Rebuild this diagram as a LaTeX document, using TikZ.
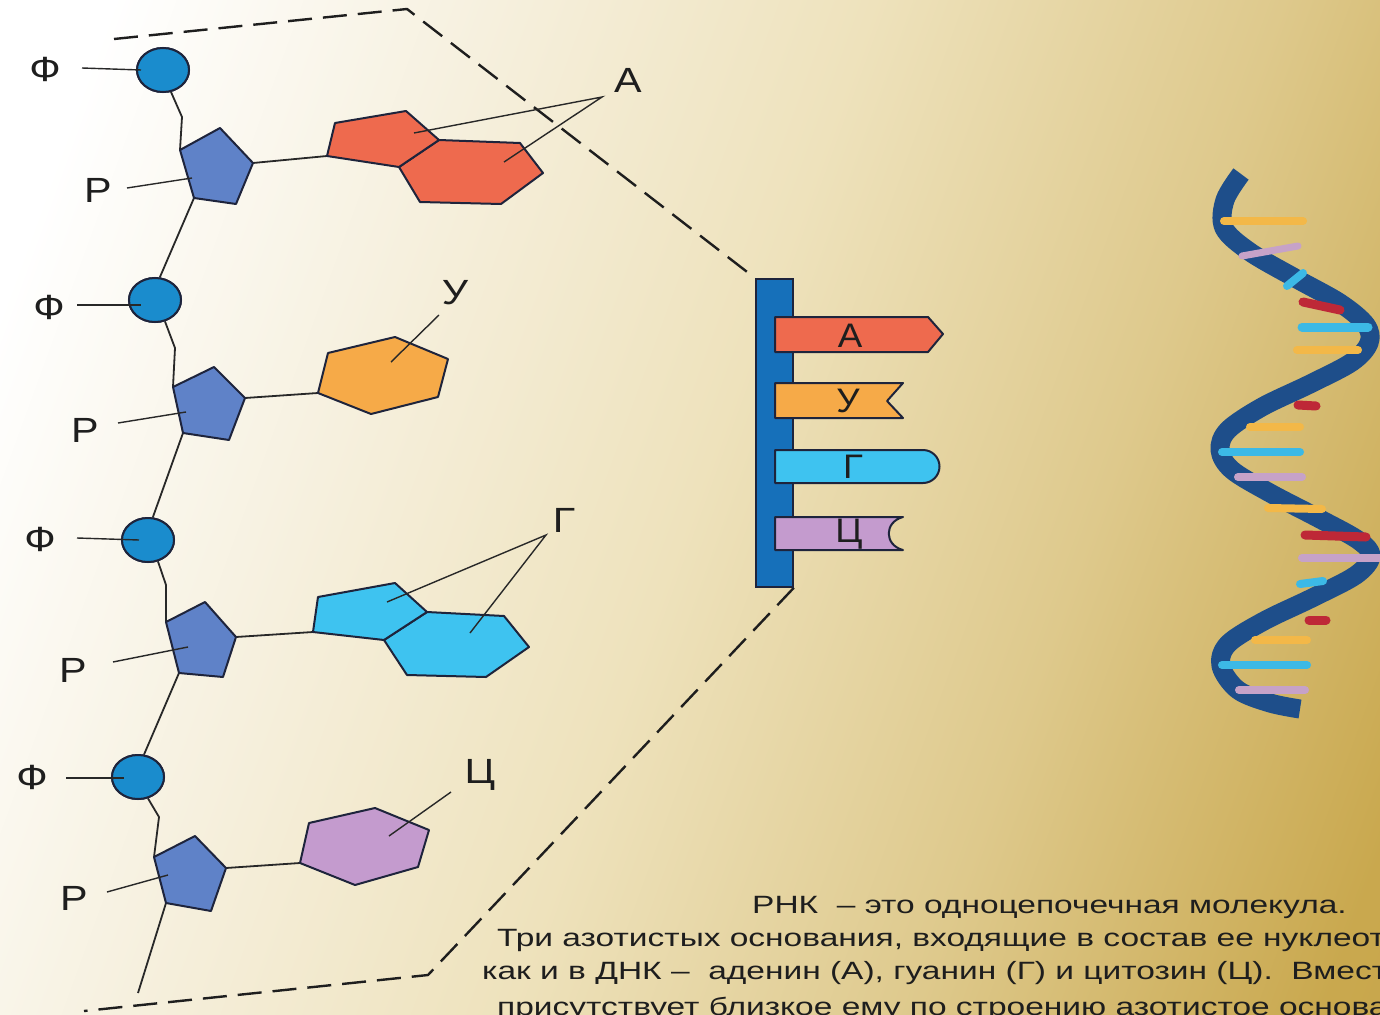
\documentclass[tikz,border=0pt]{standalone}
\usepackage{fontspec}
\setmainfont{Liberation Sans}
\newfontfamily\lblfont{Liberation Sans}[FakeStretch=1.18]
\newfontfamily\tagfont{Liberation Sans}[FakeStretch=1.08]
\newfontfamily\txtfont{Liberation Sans}[FakeStretch=1.34]
\usetikzlibrary{shapes.geometric}

\definecolor{bgA}{RGB}{246,240,222}
\definecolor{bgB}{RGB}{238,226,188}
\definecolor{bgC}{RGB}{222,201,140}
\definecolor{bgD}{RGB}{201,168,78}
\definecolor{bgE}{RGB}{194,160,66}
\definecolor{inkdark}{RGB}{30,30,30}
\definecolor{linkgray}{RGB}{40,40,40}
\definecolor{outline}{RGB}{30,36,60}
\definecolor{phosblue}{RGB}{26,140,205}
\definecolor{sugarblue}{RGB}{95,130,200}
\definecolor{adenine}{RGB}{238,106,78}
\definecolor{uracil}{RGB}{246,170,72}
\definecolor{guanine}{RGB}{62,195,240}
\definecolor{cytosine}{RGB}{196,155,206}
\definecolor{barblue}{RGB}{22,112,186}
\definecolor{ribbon}{RGB}{30,78,138}
\definecolor{hxyellow}{RGB}{243,184,72}
\definecolor{hxpurple}{RGB}{198,162,200}
\definecolor{hxcyan}{RGB}{60,185,230}
\definecolor{hxred}{RGB}{190,40,55}

\pgfdeclarehorizontalshading{paper}{100bp}{color(0bp)=(white); color(22bp)=(white); color(36bp)=(bgA); color(50bp)=(bgB); color(65bp)=(bgC); color(80bp)=(bgD); color(100bp)=(bgE)}

\begin{document}
\begin{tikzpicture}[x=1pt,y=-1pt,
  link/.style={draw=linkgray, line width=1.8pt},
  leader/.style={draw=linkgray, line width=1.4pt},
  frame/.style={draw=inkdark, line width=2.4pt, dash pattern=on 24pt off 11pt},
  phos/.style={ellipse, draw=outline, line width=2pt, fill=phosblue,
    minimum width=52pt, minimum height=44pt, inner sep=0pt},
  ring/.style={draw=outline, line width=2pt, line join=round},
  lbl/.style={font=\lblfont\fontsize{35pt}{40pt}\selectfont, text=inkdark, inner sep=0pt},
  taglbl/.style={font=\tagfont\fontsize{34pt}{40pt}\selectfont, text=inkdark, inner sep=0pt},
  para/.style={font=\txtfont\fontsize{25pt}{30pt}\selectfont, text=inkdark,
    inner sep=0pt, anchor=base west},
  rung/.style={line width=8pt, line cap=round}]

% page and its golden background
\useasboundingbox (0,0) rectangle (1380,1014);
\clip (0,0) rectangle (1380,1014);
\shade[shading=paper, shading angle=-20] (0,0) rectangle (1380,1014);

% ---------- RNA strand bar ----------
\node[draw=outline, line width=1.6pt, fill=barblue, minimum width=37pt,
  minimum height=308pt, inner sep=0pt] (bar) at (774.5,433) {};

% dashed magnification frame
\coordinate (fr1) at (114,39);
\coordinate (fr2) at (407,9);
\coordinate (fr3) at (428,975);
\coordinate (fr4) at (84,1011);
\draw[frame] (fr1) -- (fr2) -- (bar.north west);
\draw[frame] (bar.south east) -- (fr3) -- (fr4);
\node[draw=outline, line width=1.6pt, fill=barblue, minimum width=37pt,
  minimum height=308pt, inner sep=0pt] at (bar) {};

% base tags on the bar
\coordinate (ta1) at (775,317); \coordinate (ta2) at (928,317);
\coordinate (ta3) at (943,334); \coordinate (ta4) at (928,352);
\coordinate (ta5) at (775,352);
\filldraw[ring, fill=adenine] (ta1) -- (ta2) -- (ta3) -- (ta4) -- (ta5) -- cycle;
\node[taglbl] (tagA) at (850,336) {А};

\coordinate (tu1) at (775,383); \coordinate (tu2) at (903,383);
\coordinate (tu3) at (887,401); \coordinate (tu4) at (903,418);
\coordinate (tu5) at (775,418);
\filldraw[ring, fill=uracil] (tu1) -- (tu2) -- (tu3) -- (tu4) -- (tu5) -- cycle;
\node[taglbl] (tagU) at (848,401) {У};

\coordinate (tg1) at (775,450); \coordinate (tg2) at (923,450);
\coordinate (tg3) at (775,483);
\filldraw[ring, fill=guanine] (tg1) -- (tg2) arc(-90:90:16.5) -- (tg3) -- cycle;
\node[taglbl] (tagG) at (853,467) {Г};

\coordinate (tc1) at (775,517); \coordinate (tc2) at (903,517);
\coordinate (tc3) at (903,550); \coordinate (tc4) at (775,550);
\filldraw[ring, fill=cytosine] (tc1) -- (tc2) .. controls (884,522) and (884,545) .. (tc3) -- (tc4) -- cycle;
\node[taglbl] (tagC) at (849,534) {Ц};

% ---------- double helix ----------
\draw[ribbon, line width=19pt, line cap=butt, line join=round]
  plot[smooth, tension=0.55] coordinates {
  (1241,174) (1225,200) (1224,228) (1250,252) (1295,278) (1340,303)
  (1366,325) (1369,343) (1352,362) (1310,384) (1262,407) (1228,430)
  (1220,450) (1232,470) (1270,493) (1318,518) (1358,540) (1371,556)
  (1356,575) (1312,598) (1264,621) (1228,644) (1221,666) (1238,690)
  (1270,703) (1300,709)};
\draw[rung, hxyellow] (1224,221) -- (1303,221);
\draw[rung, hxpurple, line width=7pt] (1242,256) -- (1298,246);
\draw[rung, hxcyan] (1287,286) -- (1303,273);
\draw[rung, hxred, line width=9pt] (1303,302) -- (1340,310);
\draw[rung, hxcyan, line width=9pt] (1302,327) -- (1368,327);
\draw[rung, hxyellow] (1297,350) -- (1358,350);
\draw[rung, hxred, line width=9pt] (1298,405) -- (1316,406);
\draw[rung, hxyellow] (1250,427) -- (1300,427);
\draw[rung, hxcyan] (1222,452) -- (1300,452);
\draw[rung, hxpurple] (1238,477) -- (1302,477);
\draw[rung, hxyellow] (1268,508) -- (1322,509);
\draw[rung, hxred, line width=9pt] (1305,535) -- (1366,537);
\draw[rung, hxpurple] (1302,558) -- (1382,558);
\draw[rung, hxcyan] (1300,584) -- (1323,581);
\draw[rung, hxred, line width=9pt] (1309,620) -- (1326,620);
\draw[rung, hxyellow] (1255,640) -- (1307,640);
\draw[rung, hxcyan] (1222,665) -- (1307,665);
\draw[rung, hxpurple] (1239,690) -- (1305,690);

% ---------- nucleotide chain ----------
% phosphates
\node[phos] (ph1) at (163,70) {};
\node[phos] (ph2) at (155,300) {};
\node[phos] (ph3) at (148,540) {};
\node[phos] (ph4) at (138,777) {};

% ribose corners
\coordinate (s1a) at (180,150); \coordinate (s1b) at (220,128); \coordinate (s1c) at (253,163);
\coordinate (s1d) at (236,204); \coordinate (s1e) at (194,198);
\coordinate (s2a) at (173,387); \coordinate (s2b) at (214,367); \coordinate (s2c) at (245,398);
\coordinate (s2d) at (229,440); \coordinate (s2e) at (183,433);
\coordinate (s3a) at (166,622); \coordinate (s3b) at (205,602); \coordinate (s3c) at (236,637);
\coordinate (s3d) at (223,677); \coordinate (s3e) at (179,673);
\coordinate (s4a) at (154,857); \coordinate (s4b) at (195,836); \coordinate (s4c) at (226,868);
\coordinate (s4d) at (211,911); \coordinate (s4e) at (166,903);

% backbone bends
\coordinate (k1) at (182,117);
\coordinate (k2) at (175,348);
\coordinate (k3) at (166,585);
\coordinate (k4) at (159,817);
\coordinate (tail) at (138,993);

% base corners
\coordinate (ba1) at (327,156); \coordinate (ba2) at (335,123); \coordinate (ba3) at (406,111);
\coordinate (ba4) at (439,140); \coordinate (ba5) at (399,167); \coordinate (ba6) at (520,143);
\coordinate (ba7) at (543,173); \coordinate (ba8) at (501,204); \coordinate (ba9) at (420,202);
\coordinate (bu1) at (318,393); \coordinate (bu2) at (328,353); \coordinate (bu3) at (395,337);
\coordinate (bu4) at (448,359); \coordinate (bu5) at (438,397); \coordinate (bu6) at (371,414);
\coordinate (bg1) at (313,632); \coordinate (bg2) at (318,597); \coordinate (bg3) at (395,583);
\coordinate (bg4) at (427,612); \coordinate (bg5) at (384,640); \coordinate (bg6) at (504,616);
\coordinate (bg7) at (529,647); \coordinate (bg8) at (486,677); \coordinate (bg9) at (407,675);
\coordinate (bc1) at (300,863); \coordinate (bc2) at (309,823); \coordinate (bc3) at (375,808);
\coordinate (bc4) at (429,830); \coordinate (bc5) at (418,867); \coordinate (bc6) at (355,885);

% backbone and glycosidic links
\draw[link] (ph1.-70) -- (k1) -- (s1a);
\draw[link] (s1e) -- (ph2.78);
\draw[link] (ph2.-65) -- (k2) -- (s2a);
\draw[link] (s2e) -- (ph3.78);
\draw[link] (ph3.-65) -- (k3) -- (s3a);
\draw[link] (s3e) -- (ph4.75);
\draw[link] (ph4.-65) -- (k4) -- (s4a);
\draw[link] (s4e) -- (tail);
\draw[link] (s1c) -- (ba1);
\draw[link] (s2c) -- (bu1);
\draw[link] (s3c) -- (bg1);
\draw[link] (s4c) -- (bc1);

% redraw phosphates over the links
\node[phos] at (ph1) {};
\node[phos] at (ph2) {};
\node[phos] at (ph3) {};
\node[phos] at (ph4) {};

% riboses
\filldraw[ring, fill=sugarblue] (s1a) -- (s1b) -- (s1c) -- (s1d) -- (s1e) -- cycle;
\filldraw[ring, fill=sugarblue] (s2a) -- (s2b) -- (s2c) -- (s2d) -- (s2e) -- cycle;
\filldraw[ring, fill=sugarblue] (s3a) -- (s3b) -- (s3c) -- (s3d) -- (s3e) -- cycle;
\filldraw[ring, fill=sugarblue] (s4a) -- (s4b) -- (s4c) -- (s4d) -- (s4e) -- cycle;

% bases
\filldraw[ring, fill=adenine] (ba4) -- (ba6) -- (ba7) -- (ba8) -- (ba9) -- (ba5) -- cycle;
\filldraw[ring, fill=adenine] (ba1) -- (ba2) -- (ba3) -- (ba4) -- (ba5) -- cycle;
\filldraw[ring, fill=uracil] (bu1) -- (bu2) -- (bu3) -- (bu4) -- (bu5) -- (bu6) -- cycle;
\filldraw[ring, fill=guanine] (bg4) -- (bg6) -- (bg7) -- (bg8) -- (bg9) -- (bg5) -- cycle;
\filldraw[ring, fill=guanine] (bg1) -- (bg2) -- (bg3) -- (bg4) -- (bg5) -- cycle;
\filldraw[ring, fill=cytosine] (bc1) -- (bc2) -- (bc3) -- (bc4) -- (bc5) -- (bc6) -- cycle;

% ---------- labels and leaders ----------
\node[lbl] (lf1) at (45,69) {Ф};
\node[lbl] (lf2) at (49,307) {Ф};
\node[lbl] (lf3) at (40,539) {Ф};
\node[lbl] (lf4) at (32,777) {Ф};
\node[lbl] (lr1) at (98,190) {Р};
\node[lbl] (lr2) at (85,430) {Р};
\node[lbl] (lr3) at (73,670) {Р};
\node[lbl] (lr4) at (74,898) {Р};

\coordinate (f1o) at (82,68);  \coordinate (f1i) at (141,70);
\coordinate (f2o) at (77,305); \coordinate (f2i) at (141,305);
\coordinate (f3o) at (77,538); \coordinate (f3i) at (139,540);
\coordinate (f4o) at (66,778); \coordinate (f4i) at (124,778);
\coordinate (r1o) at (127,188); \coordinate (r1i) at (192,178);
\coordinate (r2o) at (118,423); \coordinate (r2i) at (186,412);
\coordinate (r3o) at (113,662); \coordinate (r3i) at (188,647);
\coordinate (r4o) at (107,892); \coordinate (r4i) at (168,875);
\draw[leader] (f1o) -- (f1i);
\draw[leader] (f2o) -- (f2i);
\draw[leader] (f3o) -- (f3i);
\draw[leader] (f4o) -- (f4i);
\draw[leader] (r1o) -- (r1i);
\draw[leader] (r2o) -- (r2i);
\draw[leader] (r3o) -- (r3i);
\draw[leader] (r4o) -- (r4i);

\node[lbl] (la) at (628,80) {А};
\node[lbl] (lu) at (455,293) {У};
\node[lbl] (lg) at (564,520) {Г};
\node[lbl] (lc) at (480,775) {Ц};

\coordinate (aApex) at (602,97);
\coordinate (aIn1) at (414,133); \coordinate (aIn2) at (504,162);
\coordinate (uOut) at (439,315); \coordinate (uIn) at (391,362);
\coordinate (gApex) at (546,535);
\coordinate (gIn1) at (387,602); \coordinate (gIn2) at (470,633);
\coordinate (cOut) at (451,792); \coordinate (cIn) at (389,836);
\draw[leader] (aIn1) -- (aApex) -- (aIn2);
\draw[leader] (uOut) -- (uIn);
\draw[leader] (gIn1) -- (gApex) -- (gIn2);
\draw[leader] (cOut) -- (cIn);

% ---------- caption ----------
\node[para] (t1) at (752,913) {РНК~ – это одноцепочечная молекула.};
\node[para] (t2) at (497,946) {Три азотистых основания, входящие в состав ее нуклеот};
\node[para] (t3) at (482,979) {как и в ДНК –~ аденин (А), гуанин (Г) и цитозин (Ц).~ Вмест};
\node[para] (t4) at (497,1015) {присутствует близкое ему по строению азотистое основа};

\end{tikzpicture}
\end{document}
